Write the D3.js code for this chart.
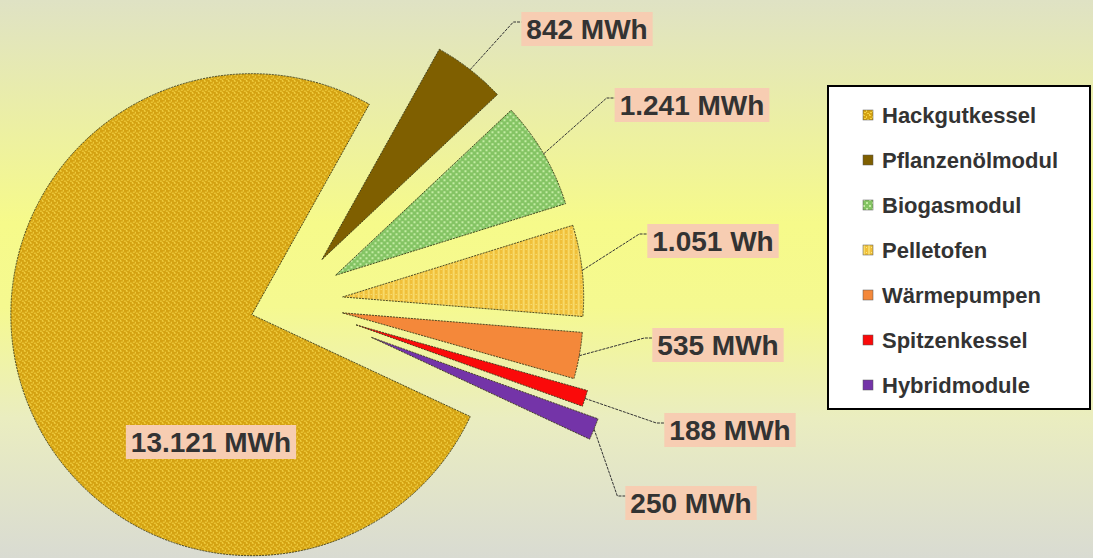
<!DOCTYPE html>
<html>
<head>
<meta charset="utf-8">
<script src="https://cdn.jsdelivr.net/npm/d3@7"></script>
<style>
  html, body { margin: 0; padding: 0; overflow: hidden; }
  svg { display: block; font-family: 'Liberation Sans', Arial, sans-serif; }
</style>
</head>
<body>
<svg id="chart" width="1093" height="558"></svg>
<script>
// data
const categories = ['Hackgutkessel', 'Pflanzenölmodul', 'Biogasmodul', 'Pelletofen', 'Wärmepumpen', 'Spitzenkessel', 'Hybridmodule'];
const values = [13121, 842, 1241, 1051, 535, 188, 250];
const valueLabels = ['13.121 MWh', '842 MWh', '1.241 MWh', '1.051 Wh', '535 MWh', '188 MWh', '250 MWh'];

// layout
const width = 1093, height = 558;
const cx = 288, cy = 303, radius = 241;
const explode = [38, 55, 55, 55, 55, 71, 90];
// label box centres
const labelPos = [[211, 442], [587, 29], [692, 105], [713, 241], [718, 345], [730, 430], [691, 503]];
const fills = ['url(#pat-hack)', '#7f5f00', 'url(#pat-bio)', 'url(#pat-pellet)', '#f4883a', '#fa0a0a', '#7434a8'];

const svg = d3.select('#chart');
const defs = svg.append('defs');

const bg = defs.append('linearGradient').attr('id', 'bg').attr('x1', 0).attr('y1', 0).attr('x2', 0).attr('y2', 1);
[[0, '#dfe2c4'], [0.4, '#f6fa8a'], [0.55, '#f5f990'], [0.75, '#eaedc0'], [1, '#d9dbd2']].forEach(([o, c]) => {
  bg.append('stop').attr('offset', o).attr('stop-color', c);
});

// textured fills
const hack = defs.append('pattern').attr('id', 'pat-hack').attr('patternUnits', 'userSpaceOnUse')
  .attr('width', 6).attr('height', 6);
hack.append('rect').attr('width', 6).attr('height', 6).attr('fill', '#d4a212');
[[0, 0, 2, 1], [3, 1, 1, 2], [1, 3, 2, 1], [4, 4, 2, 1], [0, 5, 1, 1]].forEach(([x, y, w, h]) => {
  hack.append('rect').attr('x', x).attr('y', y).attr('width', w).attr('height', h).attr('fill', '#f4d244');
});

const bio = defs.append('pattern').attr('id', 'pat-bio').attr('patternUnits', 'userSpaceOnUse')
  .attr('width', 6).attr('height', 6);
bio.append('rect').attr('width', 6).attr('height', 6).attr('fill', '#84c464');
[[0, 0, 2, 2], [3, 3, 2, 2]].forEach(([x, y, w, h]) => {
  bio.append('rect').attr('x', x).attr('y', y).attr('width', w).attr('height', h).attr('fill', '#c4eca4');
});

const pel = defs.append('pattern').attr('id', 'pat-pellet').attr('patternUnits', 'userSpaceOnUse')
  .attr('width', 5).attr('height', 5);
pel.append('rect').attr('width', 5).attr('height', 5).attr('fill', '#f0c03a');
pel.append('rect').attr('x', 0).attr('width', 2).attr('height', 5).attr('fill', '#f8da68');
pel.append('rect').attr('x', 3).attr('y', 2).attr('width', 1).attr('height', 1).attr('fill', '#fae890');

svg.append('rect').attr('width', width).attr('height', height).attr('fill', 'url(#bg)');

const data = categories.map((c, i) => ({ name: c, value: values[i], label: valueLabels[i], i }));

const deg = Math.PI / 180;
const pie = d3.pie().value(d => d.value).sort(null)
  .startAngle(115 * deg).endAngle(475 * deg);
const arcs = pie(data);
const arc = d3.arc().innerRadius(0).outerRadius(radius);

const offset = d => {
  const a = (d.startAngle + d.endAngle) / 2;
  const e = explode[d.data.i];
  return [cx + e * Math.sin(a), cy - e * Math.cos(a)];
};

const slices = svg.append('g').attr('class', 'slices');
slices.selectAll('path')
  .data(arcs)
  .join('path')
  .attr('transform', d => `translate(${offset(d)})`)
  .attr('d', arc)
  .attr('fill', d => fills[d.data.i])
  .attr('stroke', '#3a3a1a')
  .attr('stroke-width', 0.9)
  .attr('stroke-dasharray', '2,1');

// labels
const labels = svg.append('g').attr('class', 'labels');
arcs.forEach(d => {
  const i = d.data.i;
  const [lx, ly] = labelPos[i];
  const g = labels.append('g');
  const box = g.append('rect');
  const t = g.append('text')
    .attr('x', lx).attr('y', ly)
    .attr('text-anchor', 'middle')
    .attr('dominant-baseline', 'central')
    .attr('font-size', 28)
    .attr('font-weight', 'bold')
    .attr('fill', '#333333')
    .text(d.data.label);
  const w = t.node().getComputedTextLength() + 10;
  const h = 34;
  box.attr('x', lx - w / 2).attr('y', ly - h / 2).attr('width', w).attr('height', h)
    .attr('fill', '#f7cdb2');

  if (i === 0) return;
  const [ox, oy] = offset(d);
  const a = (d.startAngle + d.endAngle) / 2;
  const sx = ox + radius * Math.sin(a), sy = oy - radius * Math.cos(a);
  const bx = lx - w / 2;
  const elbow = [bx - 8, ly - 7];
  g.insert('path', 'rect')
    .attr('d', d3.line()([[sx, sy], elbow, [bx, ly - 7]]))
    .attr('fill', 'none')
    .attr('stroke', '#333')
    .attr('stroke-width', 1)
    .attr('stroke-dasharray', '3,1');
});

// legend
const legend = svg.append('g').attr('class', 'legend');
legend.append('rect')
  .attr('x', 828).attr('y', 86).attr('width', 262).attr('height', 323)
  .attr('fill', '#ffffff').attr('stroke', '#000').attr('stroke-width', 2);
const item = legend.selectAll('g.item').data(data).join('g').attr('class', 'item')
  .attr('transform', (d, i) => `translate(863, ${115 + i * 45})`);
item.append('rect')
  .attr('x', 0).attr('y', -5).attr('width', 10).attr('height', 10)
  .attr('fill', d => fills[d.i]).attr('stroke', '#555').attr('stroke-width', 0.5);
item.append('text')
  .attr('x', 19).attr('y', 0)
  .attr('dominant-baseline', 'central')
  .attr('font-size', 22)
  .attr('font-weight', 'bold')
  .attr('fill', '#333333')
  .text(d => d.name);
</script>
</body>
</html>
